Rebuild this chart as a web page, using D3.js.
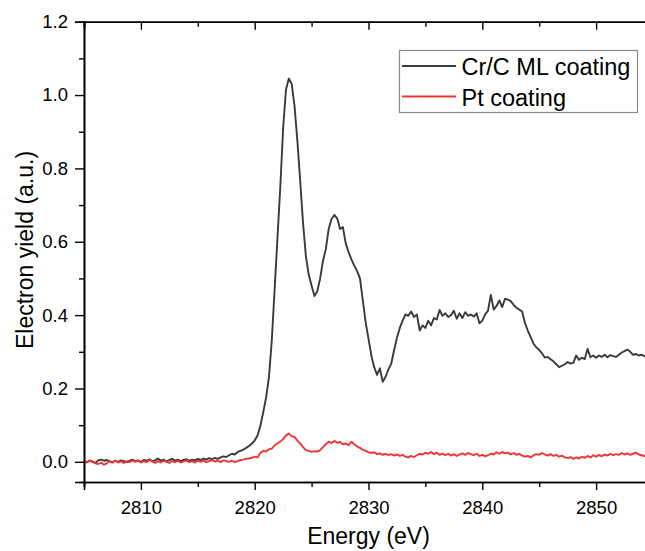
<!DOCTYPE html>
<html>
<head>
<meta charset="utf-8">
<script src="https://cdn.jsdelivr.net/npm/d3@7"></script>
<style>
  html, body { margin: 0; padding: 0; background: #fff; }
  svg { display: block; }
  text { font-family: "Liberation Sans", Arial, sans-serif; fill: #000; }
</style>
</head>
<body>
<svg id="chart" width="645" height="551"></svg>
<script>
// ---------- DATA ----------
const energy = [
 2805.00,2805.25,2805.50,2805.75, 2806.00,2806.25,2806.50,2806.75, 2807.00,2807.25,2807.50,2807.75,
 2808.00,2808.25,2808.50,2808.75, 2809.00,2809.25,2809.50,2809.75, 2810.00,2810.25,2810.50,2810.75,
 2811.00,2811.25,2811.50,2811.75, 2812.00,2812.25,2812.50,2812.75, 2813.00,2813.25,2813.50,2813.75,
 2814.00,2814.25,2814.50,2814.75, 2815.00,2815.25,2815.50,2815.75, 2816.00,2816.25,2816.50,2816.75,
 2817.00,2817.25,2817.50,2817.75, 2818.00,2818.25,2818.50,2818.75, 2819.00,2819.25,2819.50,2819.75,
 2820.00,2820.25,2820.50,2820.75, 2821.00,2821.25,2821.50,2821.75, 2822.00,2822.25,2822.50,2822.75,
 2823.00,2823.25,2823.50,2823.75, 2824.00,2824.25,2824.50,2824.75, 2825.00,2825.25,2825.50,2825.75,
 2826.00,2826.25,2826.50,2826.75, 2827.00,2827.25,2827.50,2827.75, 2828.00,2828.25,2828.50,2828.75,
 2829.00,2829.25,2829.50,2829.75, 2830.00,2830.25,2830.50,2830.75, 2831.00,2831.25,2831.50,2831.75,
 2832.00,2832.25,2832.50,2832.75, 2833.00,2833.25,2833.50,2833.75, 2834.00,2834.25,2834.50,2834.75,
 2835.00,2835.25,2835.50,2835.75, 2836.00,2836.25,2836.50,2836.75, 2837.00,2837.25,2837.50,2837.75,
 2838.00,2838.25,2838.50,2838.75, 2839.00,2839.25,2839.50,2839.75, 2840.00,2840.25,2840.50,2840.75,
 2841.00,2841.25,2841.50,2841.75, 2842.00,2842.25,2842.50,2842.75, 2843.00,2843.25,2843.50,2843.75,
 2844.00,2844.25,2844.50,2844.75, 2845.00,2845.25,2845.50,2845.75, 2846.00,2846.25,2846.50,2846.75,
 2847.00,2847.25,2847.50,2847.75, 2848.00,2848.25,2848.50,2848.75, 2849.00,2849.25,2849.50,2849.75,
 2850.00,2850.25,2850.50,2850.75, 2851.00,2851.25,2851.50,2851.75, 2852.00,2852.25,2852.50,2852.75,
 2853.00,2853.25,2853.50,2853.75, 2854.00,2854.25,2854.50
];

const crcYield = [
 0.002,-0.001,0.003,0.000,  -0.003,0.004,0.006,0.003,  0.005,0.001,-0.002,0.003,
 0.000,0.004,0.002,-0.001,  0.003,0.006,0.002,0.004,  0.000,0.005,0.003,0.007,
 0.002,0.004,0.009,0.003,  0.006,0.001,0.005,0.008,  0.003,0.006,0.002,0.005,
 0.007,0.003,0.006,0.004,  0.008,0.005,0.009,0.006,  0.010,0.007,0.011,0.008,
 0.012,0.015,0.013,0.018,  0.022,0.020,0.027,0.030,  0.033,0.038,0.043,0.050,
 0.058,0.072,0.098,0.135,  0.175,0.230,0.330,0.470,  0.610,0.750,0.910,1.015,
 1.045,1.030,0.970,0.875,  0.765,0.650,0.560,0.510,  0.480,0.452,0.465,0.500,
 0.548,0.580,0.635,0.662,  0.673,0.664,0.635,0.640,  0.595,0.572,0.552,0.535,
 0.520,0.500,0.440,0.380,  0.335,0.290,0.258,0.237,  0.255,0.218,0.232,0.252,
 0.268,0.305,0.338,0.365,  0.385,0.402,0.398,0.410,  0.395,0.402,0.358,0.372,
 0.365,0.385,0.372,0.392,  0.388,0.414,0.398,0.405,  0.395,0.400,0.412,0.390,
 0.405,0.392,0.408,0.398,  0.402,0.396,0.405,0.378,  0.385,0.402,0.412,0.455,
 0.415,0.425,0.440,0.422,  0.445,0.442,0.438,0.428,  0.420,0.415,0.410,0.378,
 0.358,0.340,0.322,0.312,  0.305,0.296,0.284,0.286,  0.280,0.274,0.266,0.258,
 0.262,0.266,0.272,0.268,  0.270,0.290,0.278,0.284,  0.280,0.308,0.285,0.290,
 0.284,0.290,0.286,0.292,  0.285,0.291,0.288,0.286,  0.292,0.298,0.302,0.306,
 0.300,0.292,0.294,0.290,  0.292,0.288,0.286
];

const ptYield = [
 0.003,-0.002,0.004,0.001,  -0.004,-0.006,-0.002,-0.008,  -0.004,0.002,-0.001,0.003,
 -0.002,0.001,-0.003,0.002,  -0.001,0.004,0.000,0.003,  -0.002,0.002,-0.001,0.005,
 0.001,-0.003,0.002,-0.002,  0.003,0.000,-0.003,0.002,  -0.001,0.003,-0.002,0.001,
 0.004,-0.001,0.002,-0.002,  0.003,0.000,0.004,-0.001,  0.002,0.005,0.001,0.003,
 -0.001,0.004,0.002,0.000,  0.003,-0.001,0.002,0.005,  0.006,0.008,0.009,0.011,
 0.014,0.012,0.024,0.030,  0.028,0.034,0.036,0.045,  0.050,0.055,0.062,0.072,
 0.077,0.070,0.068,0.058,  0.050,0.040,0.032,0.030,  0.027,0.029,0.028,0.032,
 0.040,0.048,0.055,0.051,  0.057,0.052,0.054,0.048,  0.050,0.045,0.055,0.048,
 0.042,0.038,0.033,0.030,  0.026,0.024,0.026,0.021,  0.023,0.019,0.022,0.018,
 0.021,0.017,0.020,0.016,  0.019,0.014,0.012,0.016,  0.013,0.018,0.022,0.020,
 0.025,0.022,0.027,0.021,  0.025,0.019,0.023,0.018,  0.022,0.017,0.021,0.016,
 0.020,0.023,0.019,0.024,  0.021,0.018,0.022,0.016,  0.019,0.015,0.018,0.022,
 0.020,0.026,0.022,0.027,  0.023,0.025,0.020,0.024,  0.019,0.022,0.017,0.014,
 0.016,0.012,0.018,0.021,  0.019,0.024,0.020,0.017,  0.021,0.016,0.019,0.014,
 0.017,0.012,0.010,0.013,  0.008,0.012,0.009,0.014,  0.011,0.016,0.012,0.018,
 0.014,0.019,0.015,0.020,  0.017,0.022,0.018,0.021,  0.019,0.024,0.020,0.023,
 0.019,0.022,0.025,0.020,  0.018,0.016,0.014
];

const seriesNames = ["Cr/C ML coating", "Pt coating"];
const seriesColors = ["#3a3a3a", "#f03535"];
const xTicks = [2810, 2820, 2830, 2840, 2850];
const xMinorTicks = [2805, 2815, 2825, 2835, 2845, 2855];
const yTicks = [0.0, 0.2, 0.4, 0.6, 0.8, 1.0, 1.2];
const yMinorTicks = [0.1, 0.3, 0.5, 0.7, 0.9, 1.1];
const xLabel = "Energy (eV)";
const yLabel = "Electron yield (a.u.)";

// ---------- LAYOUT ----------
const svg = d3.select("#chart");
const pLeft = 84, pRight = 653, pTop = 21.7, pBottom = 482;
const x = d3.scaleLinear().domain([2805, 2855]).range([pLeft, pRight]);
const y = d3.scaleLinear().domain([-0.055, 1.2]).range([pBottom, pTop]);
const fontFam = '"Liberation Sans", Arial, sans-serif';

function styleAxis(g) {
  g.select(".domain").attr("stroke", "#000").attr("stroke-width", 1.6);
  g.selectAll(".tick line").attr("stroke", "#000").attr("stroke-width", 1.4);
  g.selectAll("text").style("font-family", fontFam).attr("fill", "#000");
}

svg.append("defs").append("clipPath").attr("id", "clip")
  .append("rect").attr("x", pLeft).attr("y", pTop).attr("width", pRight - pLeft).attr("height", pBottom - pTop);

const makeLine = (vals) => d3.line()
  .x((d, i) => x(energy[i]))
  .y(d => y(d))(vals);

const plot = svg.append("g").attr("clip-path", "url(#clip)");
plot.append("path").attr("d", makeLine(crcYield))
  .attr("fill", "none").attr("stroke", seriesColors[0]).attr("stroke-width", 1.9).attr("stroke-linejoin", "round");
plot.append("path").attr("d", makeLine(ptYield))
  .attr("fill", "none").attr("stroke", seriesColors[1]).attr("stroke-width", 1.9).attr("stroke-linejoin", "round");

// bottom axis
svg.append("g").attr("transform", `translate(0,${pBottom})`)
  .call(d3.axisBottom(x).tickValues(xMinorTicks).tickSize(5).tickFormat(""))
  .call(styleAxis);
const gx = svg.append("g").attr("transform", `translate(0,${pBottom})`)
  .call(d3.axisBottom(x).tickValues(xTicks).tickSize(8).tickPadding(11).tickFormat(d3.format("d")))
  .call(styleAxis);
gx.selectAll("text").style("font-size", "18.5px");

// top axis (inward ticks)
svg.append("g").attr("transform", `translate(0,${pTop})`)
  .call(d3.axisBottom(x).tickValues(xMinorTicks).tickSize(5).tickFormat(""))
  .call(styleAxis);
svg.append("g").attr("transform", `translate(0,${pTop})`)
  .call(d3.axisBottom(x).tickValues(xTicks).tickSize(8).tickFormat(""))
  .call(styleAxis);

// left axis
svg.append("g").attr("transform", `translate(${pLeft},0)`)
  .call(d3.axisLeft(y).tickValues(yMinorTicks).tickSize(5).tickFormat(""))
  .call(styleAxis);
const gy = svg.append("g").attr("transform", `translate(${pLeft},0)`)
  .call(d3.axisLeft(y).tickValues(yTicks).tickSize(9).tickPadding(7).tickFormat(d3.format(".1f")))
  .call(styleAxis);
gy.selectAll("text").style("font-size", "18.5px");

// right axis (inward ticks)
svg.append("g").attr("transform", `translate(${pRight},0)`)
  .call(d3.axisLeft(y).tickValues(yMinorTicks).tickSize(5).tickFormat(""))
  .call(styleAxis);
svg.append("g").attr("transform", `translate(${pRight},0)`)
  .call(d3.axisLeft(y).tickValues(yTicks).tickSize(8).tickFormat(""))
  .call(styleAxis);

// axis titles
svg.append("text").attr("x", 368.5).attr("y", 544).attr("text-anchor", "middle")
  .style("font-size", "23px").text(xLabel);
svg.append("text").attr("transform", "translate(33,250) rotate(-90)").attr("text-anchor", "middle")
  .style("font-size", "23px").text(yLabel);

// legend
const lg = svg.append("g");
lg.append("rect").attr("x", 399.5).attr("y", 50.5).attr("width", 238).attr("height", 62)
  .attr("fill", "#fff").attr("stroke", "#8a8a8a").attr("stroke-width", 1.2);
seriesNames.forEach((name, i) => {
  const cy = 66 + i * 30.5;
  lg.append("line").attr("x1", 402).attr("x2", 456).attr("y1", cy).attr("y2", cy)
    .attr("stroke", seriesColors[i]).attr("stroke-width", 1.9);
  lg.append("text").attr("x", 461.5).attr("y", cy + 9).style("font-size", "23.5px").text(name);
});
</script>
</body>
</html>
